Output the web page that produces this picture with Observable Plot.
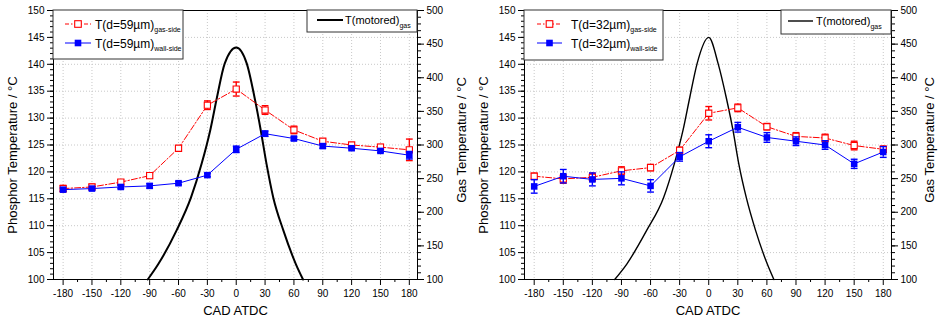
<!DOCTYPE html>
<html><head><meta charset="utf-8">
<script src="https://cdn.jsdelivr.net/npm/d3@7"></script>
<script src="https://cdn.jsdelivr.net/npm/@observablehq/plot@0.6"></script>
<style>
body{margin:0;background:#fff;}
#wrap{display:flex;width:938px;height:324px;overflow:hidden;}
</style></head><body><div id="wrap"></div>
<script>
// ---- data ----
const cad = [-180,-150,-120,-90,-60,-30,0,30,60,90,120,150,180];
const xTickLabels = [-180,-150,-120,-90,-60,-30,0,30,60,90,120,150,180];
const yTickLabels = [100,105,110,115,120,125,130,135,140,145,150];
const gasTickLabels = [100,150,200,250,300,350,400,450,500];

// d = 59 um
const gas59 = [116.9,117.2,118.1,119.3,124.4,132.4,135.4,131.5,127.8,125.7,125.0,124.6,124.1];
const gas59Err = [0.6,0.5,0.4,0.5,0.3,0.8,1.3,0.8,0.7,0.4,0.4,0.5,2.0];
const wall59 = [116.7,116.9,117.2,117.4,117.9,119.4,124.2,127.1,126.2,124.8,124.4,123.9,123.1];
const wall59Err = [0.3,0.3,0.3,0.4,0.3,0.3,0.6,0.5,0.3,0.4,0.3,0.3,0.7];
const motor59Cad = [-92,-81,-62,-47,-36,-27,-20,-12,0,11,19,25.5,31.5,38.5,49,62,69.5];
const motor59T   = [100,123,173,222,272,322,371,421,445,421,371,322,272,222,173,123,100];

// d = 32 um
const gas32 = [119.2,118.7,119.0,120.2,120.8,124.0,130.9,131.9,128.4,126.6,126.3,124.9,124.2];
const gas32Err = [0.55,0.8,0.75,0.75,0.6,0.6,1.25,0.7,0.6,0.7,0.7,0.8,0.6];
const wall32 = [117.3,119.2,118.6,118.8,117.4,122.8,125.7,128.3,126.4,125.7,125.0,121.5,123.7];
const wall32Err = [1.25,1.25,1.2,1.2,1.15,0.8,1.2,0.9,0.9,0.8,0.8,0.85,1.0];
const motor32Cad = [-97,-84.5,-64,-46.5,-35.5,-26.5,-19.5,-12,0,9.7,18,25,31,38.7,48.3,60.4,67.2];
const motor32T   = [100,123,173,222,272,322,371,421,460,421,371,322,272,222,173,123,100];

// ---- helpers ----
const RED = "#ff0000", BLUE = "#0000ff";
const FONT = "Liberation Sans, Arial, sans-serif";
const toP = g => 100 + (g - 100) / 8;          // gas temp -> phosphor axis units
const fromP = p => Math.round(100 + (p - 100) * 8);
const capSymbol = {draw(ctx, size){ const r = Math.sqrt(size / Math.PI); ctx.moveTo(-r, 0); ctx.lineTo(r, 0); }};

function rows(vals, errs){ return cad.map((c, i) => ({cad: c, v: vals[i], err: errs[i]})); }

function seriesMarks(data, color, open, dash){
  return [
    Plot.line(data, {x: "cad", y: "v", stroke: color, strokeWidth: 1, strokeDasharray: dash}),
    Plot.ruleX(data, {x: "cad", y1: d => d.v - d.err, y2: d => d.v + d.err, stroke: color, strokeWidth: 1.4}),
    Plot.dot(data, {x: "cad", y: d => d.v - d.err, symbol: capSymbol, r: 3.4, stroke: color, strokeWidth: 1.4}),
    Plot.dot(data, {x: "cad", y: d => d.v + d.err, symbol: capSymbol, r: 3.4, stroke: color, strokeWidth: 1.4}),
    open
      ? Plot.dot(data, {x: "cad", y: "v", symbol: "square", r: 3.5, stroke: color, fill: "white", strokeWidth: 1.1})
      : Plot.dot(data, {x: "cad", y: "v", symbol: "square", r: 3.7, fill: color})
  ];
}

function panel(o){
  const gasRows = rows(o.gas, o.gasErr);
  const wallRows = rows(o.wall, o.wallErr);
  const motor = o.motorCad.map((c, i) => ({cad: c, t: o.motorT[i]}));
  const minorX = d3.range(-165, 181, 30);
  const svg = Plot.plot({
    width: 469, height: 324,
    marginLeft: o.ml, marginRight: o.mr, marginTop: 10, marginBottom: 45,
    style: {fontFamily: FONT, fontSize: "10px", background: "white", color: "black"},
    x: {domain: [-190, 188.5], label: null},
    y: {domain: [100, 150], label: null},
    marks: [
      Plot.gridX(xTickLabels, {stroke: "#c8c8c8", strokeOpacity: 1, strokeDasharray: "1,2"}),
      Plot.gridY(yTickLabels.slice(1, -1), {stroke: "#c8c8c8", strokeOpacity: 1, strokeDasharray: "1,2"}),
      Plot.line(motor, {x: "cad", y: d => toP(d.t), curve: "monotone-x", stroke: "black", strokeWidth: o.motorWidth}),
      ...seriesMarks(gasRows, RED, true, "6,2,1.5,2"),
      ...seriesMarks(wallRows, BLUE, false, null),
      Plot.frame({stroke: "black"}),
      Plot.axisX(xTickLabels, {tickSize: 6, tickPadding: 4, tickFormat: d => String(d), label: null}),
      Plot.axisX(minorX, {tickSize: 3, tickFormat: () => "", label: null}),
      Plot.axisY(yTickLabels, {anchor: "left", tickSize: 6, tickPadding: 3, tickFormat: d => String(d), label: null}),
      Plot.axisY(d3.range(100, 151, 1), {anchor: "left", tickSize: 3, tickFormat: () => "", label: null}),
      Plot.axisY(gasTickLabels.map(toP), {anchor: "right", tickSize: 6, tickPadding: 3, tickFormat: p => String(fromP(p)), label: null}),
      Plot.axisY(d3.range(100, 501, 10).map(toP), {anchor: "right", tickSize: 3, tickFormat: () => "", label: null}),
      Plot.text(["Phosphor Temperature / °C"], {frameAnchor: "left", textAnchor: "middle", dx: -41, dy: 10, rotate: -90, fontSize: 13}),
      Plot.text(["Gas Temperature / °C"], {frameAnchor: "right", textAnchor: "middle", dx: o.rdx, dy: -5, rotate: -90, fontSize: 13}),
      Plot.text(["CAD ATDC"], {frameAnchor: "bottom", textAnchor: "middle", dy: 35, fontSize: 13})
    ]
  });

  // legends
  const s = d3.select(svg);
  const L = o.legA;
  const g = s.append("g").attr("font-family", FONT).attr("text-anchor", "start");
  g.append("rect").attr("x", L.x).attr("y", 10).attr("width", L.w).attr("height", L.h)
    .attr("fill", "white").attr("stroke", "#333").attr("stroke-width", 1);
  const entries = [
    {y: 24, color: RED, open: true, dash: "4,2,1.5,2", sub: "gas-side"},
    {y: 43, color: BLUE, open: false, dash: null, sub: "wall-side"}
  ];
  for (const e of entries) {
    g.append("line").attr("x1", L.lx1).attr("x2", L.lx2).attr("y1", e.y).attr("y2", e.y)
      .attr("stroke", e.color).attr("stroke-width", 1).attr("stroke-dasharray", e.dash);
    const m = (L.lx1 + L.lx2) / 2;
    g.append("rect").attr("x", m - 3.3).attr("y", e.y - 3.3).attr("width", 6.6).attr("height", 6.6)
      .attr("fill", e.open ? "white" : e.color).attr("stroke", e.color).attr("stroke-width", e.open ? 1.1 : 0);
    const t = g.append("text").attr("x", L.tx).attr("y", e.y + 4.5).attr("font-size", L.fs)
      .attr("fill", "black").attr("text-anchor", "start");
    t.append("tspan").text(o.label);
    t.append("tspan").attr("font-size", 7).attr("dy", 3.5).text(e.sub);
  }
  const M = o.legB;
  g.append("rect").attr("x", M.x).attr("y", 10).attr("width", M.w).attr("height", M.h)
    .attr("fill", "white").attr("stroke", "#333").attr("stroke-width", 1);
  g.append("line").attr("x1", M.lx1).attr("x2", M.lx2).attr("y1", M.ly).attr("y2", M.ly)
    .attr("stroke", "black").attr("stroke-width", o.motorWidth);
  const t2 = g.append("text").attr("x", M.tx).attr("y", M.ly + 4).attr("font-size", 11)
    .attr("fill", "black").attr("text-anchor", "start");
  t2.append("tspan").text("T(motored)");
  t2.append("tspan").attr("font-size", 7).attr("dy", 3.5).text("gas");
  return svg;
}

const wrap = document.getElementById("wrap");
wrap.append(panel({
  ml: 53, mr: 52, gas: gas59, gasErr: gas59Err, wall: wall59, wallErr: wall59Err,
  motorCad: motor59Cad, motorT: motor59T, motorWidth: 2, rdx: 44,
  label: "T(d=59\u00b5m)",
  legA: {x: 53, w: 130, h: 49, lx1: 65, lx2: 91, tx: 95, fs: 12},
  legB: {x: 307, w: 110, h: 22, lx1: 317, lx2: 343, ly: 20, tx: 345}
}));
wrap.append(panel({
  ml: 55, mr: 47, gas: gas32, gasErr: gas32Err, wall: wall32, wallErr: wall32Err,
  motorCad: motor32Cad, motorT: motor32T, motorWidth: 1.4, rdx: 38,
  label: "T(d=32\u00b5m)",
  legA: {x: 55, w: 139, h: 50, lx1: 68, lx2: 93, tx: 102, fs: 12},
  legB: {x: 312, w: 110, h: 24, lx1: 319, lx2: 344, ly: 21, tx: 347}
}));
</script></body></html>
